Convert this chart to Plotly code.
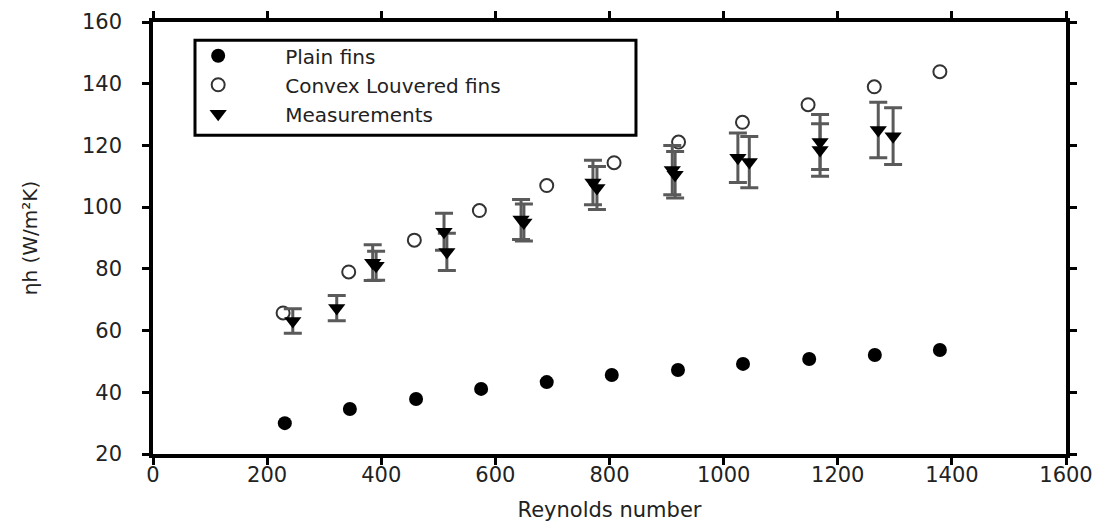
import plotly.graph_objects as go

# ---- data ----
re_plain = [231, 345, 461, 575, 690, 804, 920, 1034, 1150, 1265, 1379]
h_plain = [30.0, 34.6, 37.8, 41.1, 43.3, 45.6, 47.2, 49.2, 50.8, 52.1, 53.7]

re_louver = [228, 343, 458, 572, 690, 808, 921, 1033, 1148, 1264, 1379]
h_louver = [65.7, 79.0, 89.3, 98.9, 107.0, 114.4, 121.1, 127.5, 133.2, 139.0, 143.9]

re_meas = [245, 322, 385, 391, 510, 515, 645, 650, 771, 778, 910, 915,
           1025, 1045, 1169, 1169, 1271, 1297]
h_meas = [63.1, 67.3, 82.0, 81.0, 92.0, 85.5, 96.0, 95.0, 108.0, 106.2, 112.0, 110.5,
          116.0, 114.6, 121.1, 118.5, 125.0, 123.0]
err_meas = [4.0, 4.1, 5.8, 4.7, 6.0, 6.0, 6.5, 6.0, 7.2, 7.0, 8.0, 7.5,
            8.0, 8.3, 8.9, 8.5, 9.0, 9.2]

x_ticks = [0, 200, 400, 600, 800, 1000, 1200, 1400, 1600]
y_ticks = [20, 40, 60, 80, 100, 120, 140, 160]

FONT = "DejaVu Sans, Verdana, sans-serif"
TXT = "#222222"

fig = go.Figure()

fig.add_trace(go.Scatter(
    x=re_plain, y=h_plain, mode="markers", name="Plain fins",
    marker=dict(symbol="circle", size=14, color="black"),
))
fig.add_trace(go.Scatter(
    x=re_louver, y=h_louver, mode="markers", name="Convex Louvered fins",
    marker=dict(symbol="circle-open", size=13, color="#333333", line=dict(width=2, color="#333333")),
))
fig.add_trace(go.Scatter(
    x=re_meas, y=h_meas, mode="markers", name="Measurements",
    marker=dict(symbol="triangle-down", size=15, color="black"),
    error_y=dict(type="data", array=err_meas, visible=True,
                 color="#5a5a5a", thickness=3, width=9),
))

axis_common = dict(
    showline=True, linewidth=3.5, linecolor="black", mirror="ticks",
    ticks="outside", ticklen=7, tickwidth=2.5, tickcolor="black",
    showgrid=False, zeroline=False, automargin=False,
    tickfont=dict(family=FONT, size=21, color=TXT),
)

fig.update_xaxes(range=[0, 1600], tickvals=x_ticks, ticktext=[str(v) for v in x_ticks],
                 ticklabelstandoff=-8,
                 title=dict(text="Reynolds number", font=dict(family=FONT, size=21, color=TXT),
                            standoff=17),
                 **axis_common)
fig.update_yaxes(range=[20, 160], tickvals=y_ticks, ticktext=[str(v) for v in y_ticks],
                 ticklabelstandoff=16,
                 title=dict(text="ηh (W/m²K)", font=dict(family=FONT, size=20, color=TXT),
                            standoff=40),
                 **axis_common)

fig.update_layout(
    width=1105, height=524,
    margin=dict(l=153, r=39, t=22, b=70),
    plot_bgcolor="white", paper_bgcolor="white",
    showlegend=True,
    legend=dict(
        x=-0.002, y=0.967, xanchor="left", yanchor="top",
        bgcolor="rgba(0,0,0,0)", borderwidth=0,
        font=dict(family=FONT, size=20, color=TXT),
        itemwidth=124, tracegroupgap=0,
    ),
    shapes=[dict(type="rect", xref="paper", yref="paper",
                 x0=0.046, x1=0.529, y0=0.738, y1=0.958,
                 line=dict(color="black", width=3), fillcolor="rgba(0,0,0,0)")],
)

fig.write_html("out.html")
